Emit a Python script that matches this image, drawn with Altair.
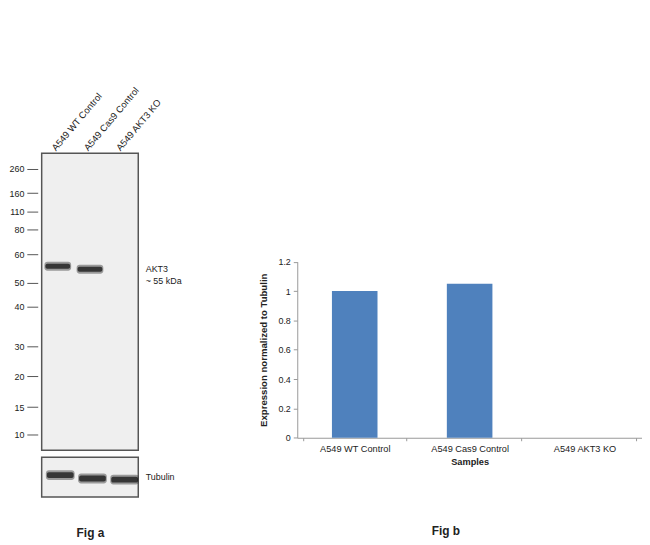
import altair as alt
import pandas as pd

# lanes / samples
lanes = ["A549 WT Control", "A549 Cas9 Control", "A549 AKT3 KO"]

# molecular weight ladder (kDa) and where each marker runs on the blot (px from top)
marker_kda = [260, 160, 110, 80, 60, 50, 40, 30, 20, 15, 10]
marker_run = [16, 40.4, 59, 77.4, 102.4, 131, 155, 195, 225.4, 256.4, 283.7]

# band positions (kDa)
akt3_lanes = ["A549 WT Control", "A549 Cas9 Control"]
akt3_kda = [55.9, 54.8]
tubulin_kda = [51.7, 50.5, 50.1]

# densitometry
expression = [1.0, 1.05, 0.0]

FONT = "Liberation Sans"
INK = "#222222"

blot_view = alt.ViewBackground(fill="#efefef", stroke="#555555", strokeWidth=1.5)
lane_scale = alt.Scale(domain=lanes)

# --- Fig a: main blot ---
akt3 = pd.DataFrame({"lane": akt3_lanes, "kda": akt3_kda})
kda_y = alt.Y("kda:Q",
              scale=alt.Scale(domain=marker_kda, range=marker_run, zero=False, nice=False),
              axis=alt.Axis(values=marker_kda, tickCount=len(marker_kda), format="d",
                            tickSize=11, tickColor="#555555", domain=False, grid=False,
                            labelPadding=3, offset=4, labelOverlap=False, labelFontSize=9,
                            labelColor=INK, title=None))
lane_x = alt.X("lane:N", sort=lanes, scale=lane_scale,
               axis=alt.Axis(orient="top", labelAngle=-50, labelAlign="left",
                             labelBaseline="middle", ticks=False, domain=False,
                             labelPadding=4, labelOffset=-4, labelFontSize=9.5,
                             labelOverlap=False, labelColor=INK, title=None))

halo = alt.Chart(akt3).mark_tick(thickness=9, size=27, color="#333333", opacity=0.45,
                                 cornerRadius=3).encode(x=lane_x, y=kda_y)
core = alt.Chart(akt3).mark_tick(thickness=5, size=25, color="#0c0c0c",
                                 cornerRadius=2).encode(x=lane_x, y=kda_y)
akt3_label = alt.Chart(pd.DataFrame({"t": [["AKT3", "~ 55 kDa"]], "kda": [55]})).mark_text(
    align="left", baseline="middle", fontSize=9, lineHeight=12, color=INK
).encode(x=alt.value(105), y=alt.Y("kda:Q"), text="t")

main_blot = alt.layer(halo, core, akt3_label).properties(
    width=97.5, height=300, view=blot_view)

# --- Fig a: tubulin loading control ---
tub = pd.DataFrame({"lane": lanes, "kda": tubulin_kda})
tub_y = alt.Y("kda:Q", scale=alt.Scale(domain=[44, 58], zero=False, nice=False), axis=None)
tub_x = alt.X("lane:N", sort=lanes, scale=lane_scale,
              axis=alt.Axis(labels=False, ticks=False, domain=False, title="Fig a",
                            titleFontSize=12, titleFontWeight="bold", titleColor=INK,
                            titlePadding=31))
tub_halo = alt.Chart(tub).mark_tick(thickness=10, size=29, color="#333333", opacity=0.45,
                                    cornerRadius=3, xOffset=2.5).encode(x=tub_x, y=tub_y)
tub_core = alt.Chart(tub).mark_tick(thickness=6, size=27, color="#0c0c0c",
                                    cornerRadius=2, xOffset=2.5).encode(x=tub_x, y=tub_y)
tub_label = alt.Chart(pd.DataFrame({"t": ["Tubulin"], "kda": [51]})).mark_text(
    align="left", baseline="middle", fontSize=9, color=INK
).encode(x=alt.value(105), y=alt.Y("kda:Q"), text="t")

tubulin = alt.layer(tub_halo, tub_core, tub_label).properties(
    width=97.5, height=40, view=blot_view)

fig_a = alt.vconcat(main_blot, tubulin, spacing=5)

# --- Fig b: quantification ---
quant = pd.DataFrame({"sample": lanes, "expression": expression})
fig_b = alt.Chart(quant).mark_bar(color="#4F81BD", size=46).encode(
    x=alt.X("sample:N", sort=lanes,
            axis=alt.Axis(labelAngle=0, tickBand="extent", tickSize=3, tickColor="#999999",
                          domainColor="#999999", labelFontSize=9.3, labelColor=INK,
                          labelPadding=4, title="Samples", titleFontSize=9.3,
                          titleFontWeight="bold", titleColor=INK, titlePadding=4)),
    y=alt.Y("expression:Q",
            scale=alt.Scale(domain=[0, 1.2], range=[287.3, 109.6], nice=False),
            axis=alt.Axis(values=[0, 0.2, 0.4, 0.6, 0.8, 1.0, 1.2], format="~g", grid=False,
                          tickSize=4, tickColor="#999999", domainColor="#999999",
                          labelFontSize=9, labelColor=INK, labelPadding=3,
                          title="Expression  normalized to Tubulin", titleFontSize=9.7,
                          titleFontWeight="bold", titleColor=INK, titlePadding=10)),
).properties(
    width=348, height=287.3,
    title=alt.Title("Fig b", orient="bottom", fontSize=12, fontWeight="bold", color=INK,
                    dx=-24, offset=60),
    view=alt.ViewBackground(stroke=None),
)

chart = alt.hconcat(fig_a, fig_b, spacing=75).properties(
    padding={"top": 74, "left": 0, "right": 0, "bottom": 0}
).configure(font=FONT).configure_view(strokeWidth=0)

chart.save("out.html", embed_options={"renderer": "svg", "actions": False})
